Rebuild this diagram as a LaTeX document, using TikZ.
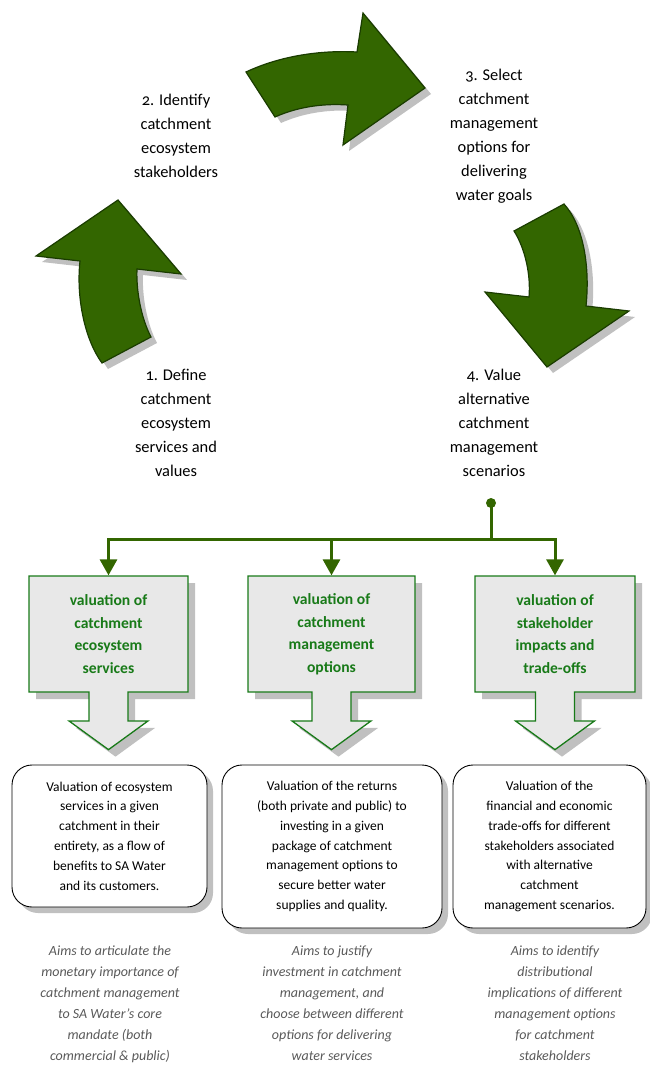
\documentclass[tikz,border=0pt]{standalone}
\usepackage{fontspec}
\setmainfont{Carlito}[Numbers=OldStyle]
\usepackage{xcolor}
\usetikzlibrary{arrows.meta,shapes.arrows,shadows,positioning}

\definecolor{cyclegreen}{RGB}{51,102,0}
\definecolor{cycleedge}{RGB}{26,60,0}
\definecolor{boxgreen}{RGB}{24,122,24}
\definecolor{boxfill}{RGB}{232,232,232}
\definecolor{shade}{RGB}{192,192,192}
\definecolor{aimgray}{RGB}{89,89,89}

\begin{document}
\begin{tikzpicture}[x=1pt, y=-1pt, >={Triangle[width=17pt,length=16pt]},
  cyclearrow/.style={fill=cyclegreen, draw=cycleedge, line width=1.2pt,
    drop shadow={shadow xshift=6pt, shadow yshift=-6pt, fill=shade, opacity=1}},
  steplabel/.style={anchor=north, align=center, inner sep=0pt,
    font=\fontsize{16.4}{24}\selectfont},
  flow/.style={draw=cyclegreen, line width=3pt},
  hubdot/.style={circle, fill=cyclegreen, inner sep=0pt, minimum size=10pt},
  valbox/.style={shape=arrow box, draw=boxgreen, fill=boxfill, line width=1.3pt,
    minimum height=116pt, inner sep=0pt, align=center, text=boxgreen,
    font=\bfseries\fontsize{15.6}{22.5}\selectfont,
    arrow box arrows={south:57pt}, arrow box shaft width=39pt,
    arrow box head extend=20pt, arrow box head indent=0pt, arrow box tip angle=108,
    drop shadow={shadow xshift=7pt, shadow yshift=-7pt, fill=shade, opacity=1}},
  descbox/.style={draw=black, line width=0.9pt, rounded corners=20pt, fill=white,
    align=center, inner sep=0pt, font=\fontsize{13.5}{19.8}\selectfont,
    drop shadow={shadow xshift=6pt, shadow yshift=-6pt, fill=shade, opacity=1}},
  aimtext/.style={anchor=north, align=center, inner sep=0pt, text=aimgray,
    font=\itshape\fontsize{14}{21}\selectfont}]
  \useasboundingbox (0,0) rectangle (649,1068);

  % Cycle arrows
  \draw[cyclearrow] (118,200) -- (181,274) -- (137,269)
    .. controls (136,290) and (141,318) .. (151,337) -- (102,363)
    .. controls (85,340) and (76,298) .. (80,261) -- (36,256) -- cycle;
  \draw[cyclearrow] (246,72) .. controls (280,56) and (320,50) .. (357,52)
    -- (363,13) -- (425,88) -- (343,145) -- (348,105)
    .. controls (320,103) and (295,108) .. (275,117) -- cycle;
  \draw[cyclearrow] (564,204) .. controls (584,226) and (590,268) .. (586,306)
    -- (629,311) -- (547,367) -- (485,292) -- (529,297)
    .. controls (531,275) and (525,248) .. (514,231) -- cycle;

  % Steps
  \node[steplabel] (define) at (176,368.5) {1. Define\\catchment\\ecosystem\\services and\\values};
  \node[steplabel] (identify) at (176,93.5) {2. Identify\\catchment\\ecosystem\\stakeholders};
  \node[steplabel] (select) at (494,68.5) {3. Select\\catchment\\management\\options for\\delivering\\water goals};
  \node[steplabel] (value) at (494,368.5) {4. Value\\alternative\\catchment\\management\\scenarios};

  % Three kinds of valuation
  \node[valbox, minimum width=159pt] (val1) at (108.5,634) {valuation of\\catchment\\ecosystem\\services};
  \node[valbox, minimum width=167pt] (val2) at (331.5,634) {valuation of\\catchment\\management\\options};
  \node[valbox, minimum width=160pt] (val3) at (555,634) {valuation of\\stakeholder\\impacts and\\trade-offs};

  % Fork from step 4
  \node[hubdot] (hub) at (491,503) {};
  \coordinate (fork) at (491,539);
  \draw[flow] (hub.center) -- (fork);
  \draw[flow,->] (fork) -| (val1.north);
  \draw[flow,->] (fork) -| (val2.north);
  \draw[flow,->] (fork) -| (val3.north);

  % Descriptions
  \node[descbox, minimum width=195pt, minimum height=142pt] (desc1) at (109.5,836)
    {Valuation of ecosystem\\services in a given\\catchment in their\\entirety, as a flow of\\benefits to SA Water\\and its customers.};
  \node[descbox, minimum width=220pt, minimum height=163pt] (desc2) at (332,846.5)
    {Valuation of the returns\\(both private and public) to\\investing in a given\\package of catchment\\management options to\\secure better water\\supplies and quality.};
  \node[descbox, minimum width=193pt, minimum height=163pt] (desc3) at (549.5,846.5)
    {Valuation of the\\financial and economic\\trade-offs for different\\stakeholders associated\\with alternative\\catchment\\management scenarios.};

  % Aims
  \node[aimtext] (aim1) at (110,946) {Aims to articulate the\\monetary importance of\\catchment management\\to SA Water’s core\\mandate (both\\commercial \& public)};
  \node[aimtext] (aim2) at (332,946) {Aims to justify\\investment in catchment\\management, and\\choose between different\\options for delivering\\water services};
  \node[aimtext] (aim3) at (555,946) {Aims to identify\\distributional\\implications of different\\management options\\for catchment\\stakeholders};
\end{tikzpicture}
\end{document}
